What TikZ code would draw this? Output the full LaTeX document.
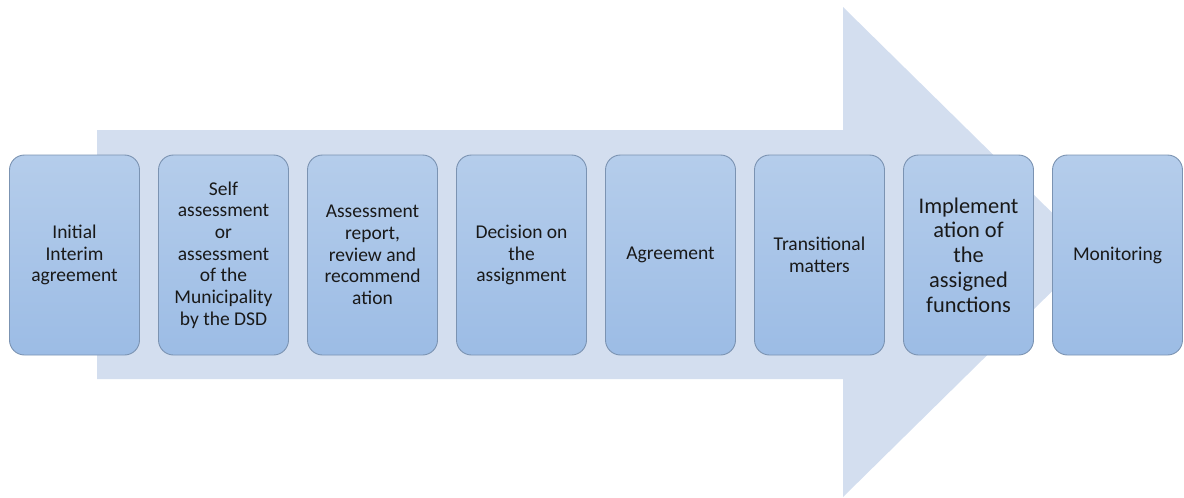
\documentclass[tikz,border=0pt]{standalone}
\usepackage{fontspec}
\setmainfont{Carlito}

\definecolor{fondoflecha}{HTML}{D3DEEF}
\definecolor{cajaarriba}{HTML}{B5CDEB}
\definecolor{cajaabajo}{HTML}{9CBCE5}
\definecolor{bordecaja}{HTML}{7B93B2}

\tikzset{
    paso/.style={draw=bordecaja, line width=0.9pt, rounded corners=15pt,
        top color=cajaarriba, bottom color=cajaabajo,
        minimum width=130pt, minimum height=200pt, inner sep=2pt,
        align=center, text=black!90, font=\fontsize{19.5}{21.7}\selectfont},
    pasogrande/.style={paso, font=\fontsize{22.4}{24.7}\selectfont}
}

\begin{document}
\begin{tikzpicture}[x=1pt, y=-1pt]
        \useasboundingbox (0,0) rectangle (1184,498);
        % --- Flecha de fondo ---
        \fill[fondoflecha] (97,130) -- (843,130) -- (843,7) -- (1092,252)
            -- (843,497) -- (843,379) -- (97,379) -- cycle;

        % --- Etapas del proceso (de izquierda a derecha) ---
        \node[paso] (Inicial) at (74.5,255) {Initial\\Interim\\agreement};
        \node[paso] (Autoeval) at (223.5,255) {Self\\assessment\\or\\assessment\\of the\\Municipality\\by the DSD};
        \node[paso] (Informe) at (372.5,255) {Assessment\\report,\\review and\\recommend\\ation};
        \node[paso] (Decision) at (521.5,255) {Decision on\\the\\assignment};
        \node[paso] (Acuerdo) at (670.5,255) {Agreement};
        \node[paso] (Transicion) at (819.5,255) {Transitional\\matters};
        % la etapa de implementacion lleva letra mas grande
        \node[pasogrande] (Implementacion) at (968.5,255) {Implement\\ation of\\the\\assigned\\functions};
        \node[paso] (Monitoreo) at (1117.5,255) {Monitoring};
    \end{tikzpicture}
\end{document}
